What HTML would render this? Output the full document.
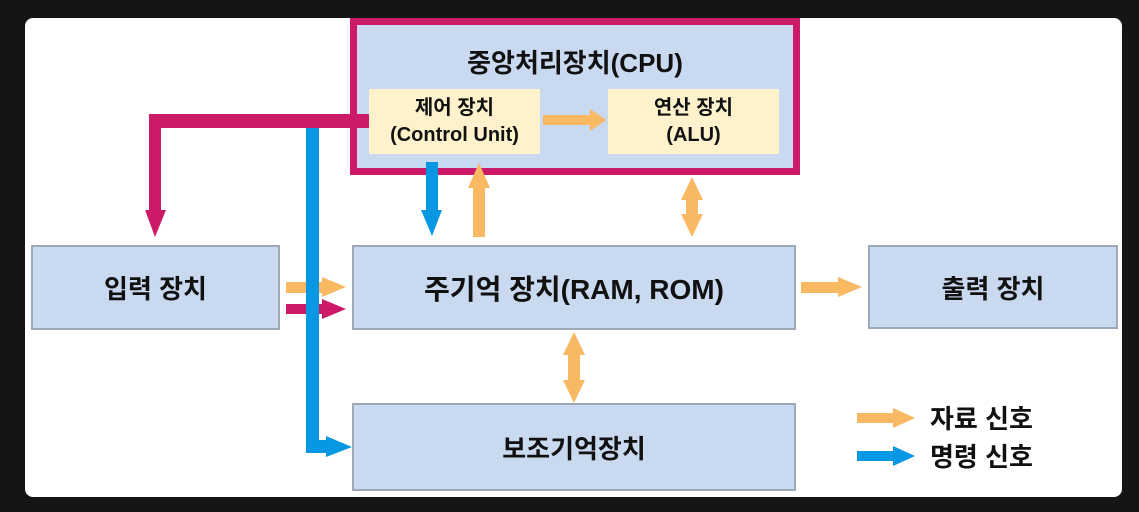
<!DOCTYPE html><html><head><meta charset="utf-8"><style>
body{margin:0;width:1139px;height:512px;background:#151515;overflow:hidden;font-family:"Liberation Sans","Noto Sans CJK KR",sans-serif;font-weight:bold;}
.p{position:absolute;left:25px;top:18px;width:1097px;height:479px;background:#fff;border-radius:8px}
.b{position:absolute;background:#c9d9ef;border:2px solid #9ea9b8;box-sizing:border-box;display:flex;align-items:center;justify-content:center;font-size:26px;color:#111}
.y{position:absolute;background:#fef2cc;display:flex;flex-direction:column;align-items:center;justify-content:center;font-size:20px;line-height:27px;color:#111}
</style></head><body>
<div class="p"></div>
<div style="position:absolute;left:350px;top:18px;width:450px;height:157px;box-sizing:border-box;border:7px solid #cc1a68;background:#c9d9ef"></div>
<div style="position:absolute;left:350px;top:43px;width:450px;text-align:center;font-size:26px;color:#111">중앙처리장치(CPU)</div>
<div class="y" style="left:369px;top:89px;width:171px;height:65px"><div>제어 장치</div><div>(Control Unit)</div></div>
<div class="y" style="left:608px;top:89px;width:171px;height:65px"><div>연산 장치</div><div>(ALU)</div></div>
<div class="b" style="left:31px;top:245px;width:249px;height:85px">입력 장치</div>
<div class="b" style="left:352px;top:245px;width:444px;height:85px;font-size:28px">주기억 장치(RAM, ROM)</div>
<div class="b" style="left:868px;top:245px;width:250px;height:84px">출력 장치</div>
<div class="b" style="left:352px;top:403px;width:444px;height:88px">보조기억장치</div>
<div style="position:absolute;left:930px;top:400px;font-size:26px;color:#111;line-height:38px">자료 신호<br>명령 신호</div>
<svg width="1139" height="512" style="position:absolute;left:0;top:0">
<g fill="#f9b862">
<polygon points="543,115 590,115 590,109 606,120 590,131 590,125 543,125"/>
<polygon points="473,237 473,188 468,188 479,163 490,188 485,188 485,237"/>
<polygon points="692,177 703,200 698,200 698,214 703,214 692,237 681,214 686,214 686,200 681,200"/>
<polygon points="574,332 585,355 580,355 580,380 585,380 574,403 563,380 568,380 568,355 563,355"/>
<polygon points="286,282 322,282 322,277 346,287 322,297 322,293 286,293"/>
<polygon points="801,282 838,282 838,277 862,287 838,297 838,293 801,293"/>
<polygon points="857,413 893,413 893,408 915,418 893,428 893,423 857,423"/>
</g>
<g fill="#cc1a68">
<polygon points="369,114 149,114 149,210 145,210 155,237 166,210 161,210 161,128 369,128"/>
<polygon points="286,304 322,304 322,299 346,309 322,319 322,314 286,314"/>
</g>
<g fill="#0797e3">
<polygon points="306,128 319,128 319,440 326,440 326,436 352,447 326,457 326,453 306,453"/>
<polygon points="426,162 438,162 438,210 442,210 432,236 421,210 426,210"/>
<polygon points="857,451 893,451 893,446 915,456 893,466 893,461 857,461"/>
</g>
</svg>
</body></html>
